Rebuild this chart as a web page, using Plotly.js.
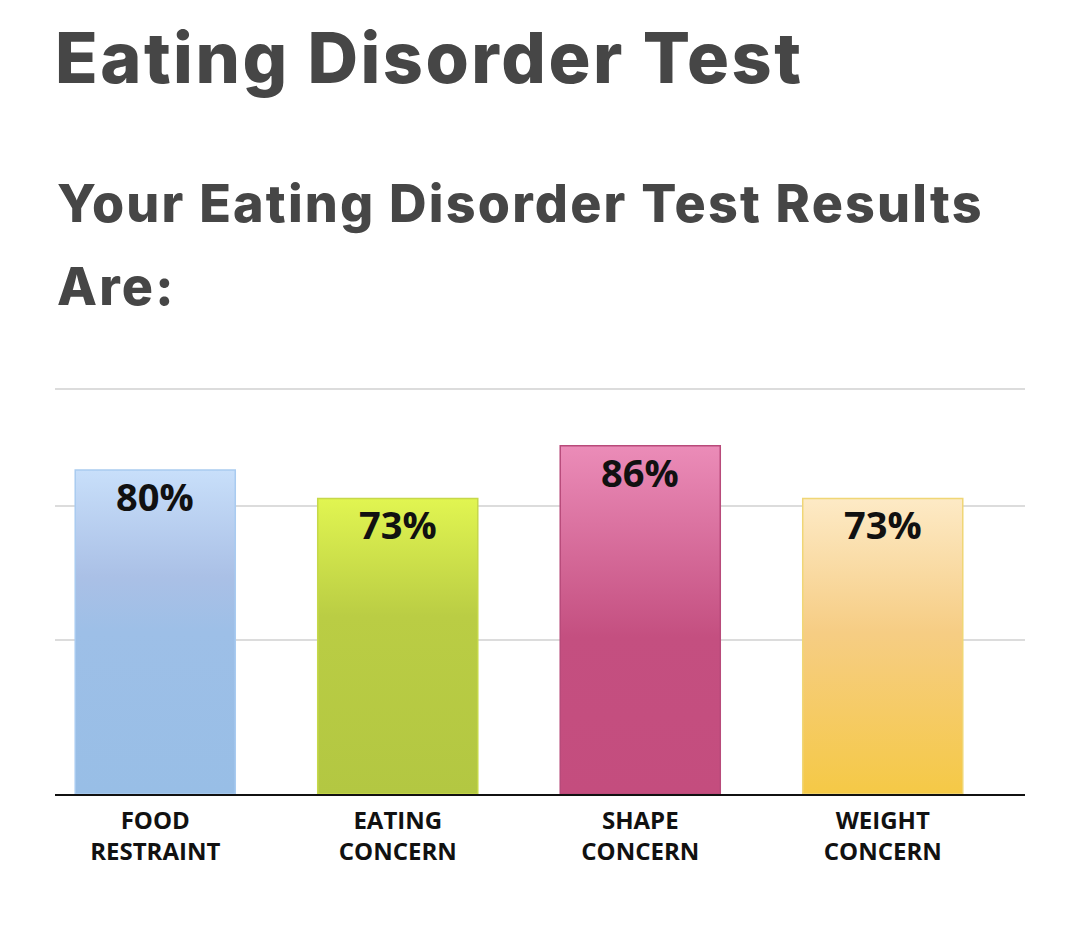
<!DOCTYPE html>
<html>
<head>
<meta charset="utf-8">
<script src="https://cdn.plot.ly/plotly-3.0.1.min.js"></script>
<style>
html,body{margin:0;padding:0;background:#fff;}
#chart{width:1080px;height:934px;}
</style>
</head>
<body>
<div id="chart"></div>
<script>
// ---- data ----
const categories = ["FOOD<br>RESTRAINT", "EATING<br>CONCERN", "SHAPE<br>CONCERN", "WEIGHT<br>CONCERN"];
const values = [80, 73, 86, 73];
const gridValues = [38, 71, 100];
const mainTitle = "Eating Disorder Test";
const subTitleLine1 = "Your Eating Disorder Test Results";
const subTitleLine2 = "Are:";

// ---- styles ----
const baseColors = ["#9bbfe6", "#b5c842", "#c44e7f", "#f5c947"];
const borderColors = ["#a9cbf0", "#c6d84a", "#b84a7a", "#f0d676"];
const gradientStops = [
  [[0, "#c8dffa"], [0.33, "#aac0e6"], [0.5, "#9dbfe7"], [1, "#98bee6"]],
  [[0, "#e1f551"], [0.4, "#bacd44"], [1, "#b3c742"]],
  [[0, "#eb8cb8"], [0.55, "#c44f80"], [1, "#c44d7e"]],
  [[0, "#fdeac6"], [0.45, "#f6cd84"], [1, "#f5c946"]]
];
const textColor = "#464646";

const trace = {
  type: "bar",
  x: categories,
  y: values,
  marker: { color: baseColors, line: { color: borderColors, width: 1.5 } },
  hoverinfo: "x+y",
  showlegend: false
};

const valueLabels = categories.map((c, i) => ({
  x: c, y: values[i], xref: "x", yref: "y",
  text: values[i] + "%",
  showarrow: false, yanchor: "top", yshift: 2,
  font: { family: "Open Sans", size: 38, weight: 700, color: "#111" }
}));

const layout = {
  width: 1080, height: 934,
  paper_bgcolor: "#fff", plot_bgcolor: "#fff",
  margin: { l: 55, r: 55, t: 385, b: 140 },
  title: {
    text: mainTitle,
    x: 0, xref: "paper", xanchor: "left",
    y: 1 - 58 / 934, yref: "container", yanchor: "middle",
    font: { family: "Inter", size: 70, weight: 800, color: textColor }
  },
  bargap: 0.34,
  xaxis: {
    type: "category",
    range: [-0.4134, 3.5866],
    showgrid: false, zeroline: false,
    showline: true, linecolor: "#111", linewidth: 2,
    ticks: "", ticklabelstandoff: 4,
    tickfont: { family: "Open Sans", size: 24, weight: 700, color: "#111" }
  },
  yaxis: {
    range: [0, 101], fixedrange: true,
    tickmode: "array", tickvals: gridValues,
    showticklabels: false, ticks: "",
    showgrid: true, gridcolor: "#dcdcdc", gridwidth: 2,
    zeroline: false, showline: false
  },
  annotations: valueLabels.concat([
    {
      text: subTitleLine1, xref: "paper", yref: "paper",
      x: 0, xanchor: "left", y: (794 - 203) / 409, yanchor: "middle",
      showarrow: false,
      font: { family: "Inter", size: 52, weight: 800, color: textColor }
    },
    {
      text: subTitleLine2, xref: "paper", yref: "paper",
      x: 0, xanchor: "left", y: (794 - 287) / 409, yanchor: "middle",
      showarrow: false,
      font: { family: "Inter", size: 52, weight: 800, color: textColor }
    }
  ])
};

function spaceLeftAnchored(el, spacing) {
  const before = el.getBBox();
  el.style.letterSpacing = spacing;
  const after = el.getBBox();
  const dx = before.x - after.x;
  const x0 = parseFloat(el.getAttribute("x") || "0");
  el.setAttribute("x", x0 + dx);
  el.querySelectorAll("tspan[x]").forEach(ts => {
    ts.setAttribute("x", parseFloat(ts.getAttribute("x")) + dx);
  });
}

const gd = document.getElementById("chart");
Plotly.newPlot(gd, [trace], layout, { displayModeBar: false, staticPlot: true }).then(() => {
  const svg = gd.querySelector(".main-svg");
  let defs = svg.querySelector("defs");
  const ns = "http://www.w3.org/2000/svg";
  if (!defs) { defs = document.createElementNS(ns, "defs"); svg.insertBefore(defs, svg.firstChild); }
  gradientStops.forEach((stops, i) => {
    const lg = document.createElementNS(ns, "linearGradient");
    lg.setAttribute("id", "barGrad" + i);
    lg.setAttribute("x1", "0"); lg.setAttribute("y1", "0");
    lg.setAttribute("x2", "0"); lg.setAttribute("y2", "1");
    stops.forEach(s => {
      const st = document.createElementNS(ns, "stop");
      st.setAttribute("offset", s[0]);
      st.setAttribute("stop-color", s[1]);
      lg.appendChild(st);
    });
    defs.appendChild(lg);
  });
  gd.querySelectorAll(".barlayer .point path").forEach((p, i) => {
    p.style.fill = "url(#barGrad" + i + ")";
  });
  // heading letter-spacing (kept left-aligned)
  const t = gd.querySelector(".gtitle");
  if (t) spaceLeftAnchored(t, "2.5px");
  const anns = gd.querySelectorAll(".annotation-text");
  const n = anns.length;
  if (n >= 2) {
    spaceLeftAnchored(anns[n - 2], "2.2px");
    spaceLeftAnchored(anns[n - 1], "2.2px");
  }
});
</script>
</body>
</html>
